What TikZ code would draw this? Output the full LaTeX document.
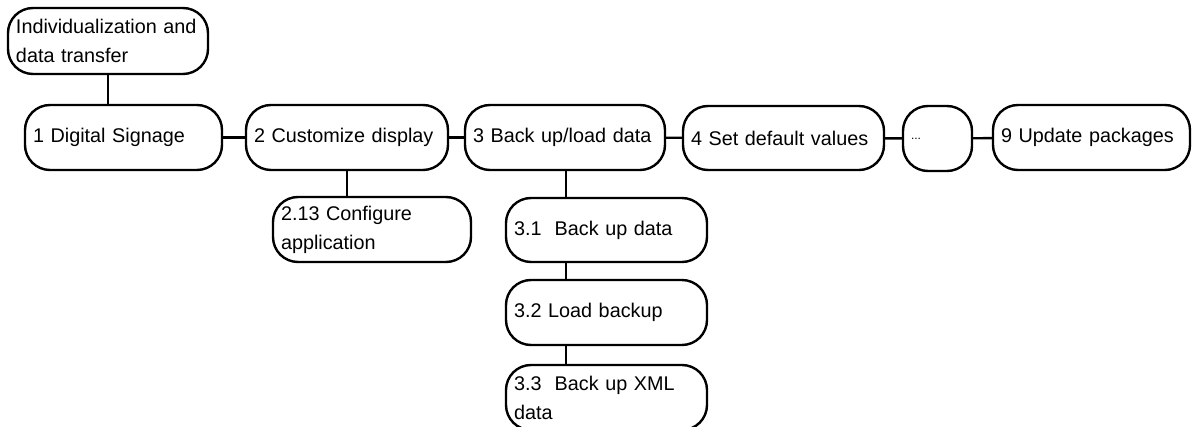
\documentclass[tikz,border=0pt]{standalone}
\usepackage{fontspec}
\setmainfont{Liberation Sans}
\begin{document}
\begin{tikzpicture}[x=1pt,y=-1pt,
  box/.style={draw, line width=2.4pt, rounded corners=25pt, inner xsep=8pt, inner ysep=0pt,
    align=left, font=\fontsize{19.8}{29}\selectfont, anchor=center},
  link/.style={line width=2.4pt}]
\useasboundingbox (0,0) rectangle (1192,427);
\clip (0,0) rectangle (1192,427);
\newcommand{\mybox}[6]{% name, x1, y1, x2, y2, text
  \pgfmathsetmacro{\bw}{#4-#2}\pgfmathsetmacro{\bh}{#5-#3}%
  \pgfmathsetmacro{\tw}{#4-#2-16}%
  \node[box, minimum width=\bw pt, minimum height=\bh pt, text width=\tw pt] (#1) at ({(#2+#4)/2},{(#3+#5)/2}) {#6};}
\mybox{top}{8}{8}{208}{74}{Individualization and\\data transfer}
\mybox{n1}{25}{105}{222}{170}{1 Digital Signage}
\mybox{n2}{246}{105}{448}{170}{2 Customize display}
\mybox{n3}{465}{105}{665}{170}{3 Back up/load data}
\mybox{n4}{683}{106}{884}{170}{4 Set default values}
\mybox{nd}{903}{106}{972}{171}{\fontsize{12}{14}\selectfont ...}
\mybox{n9}{993}{105}{1190}{170}{9 Update packages}
\mybox{n213}{273}{197}{471}{262}{2.13 Configure\\application}
\mybox{n31}{506}{198}{707}{262}{3.1~ Back up data}
\mybox{n32}{506}{280}{707}{345}{3.2 Load backup}
\mybox{n33}{506}{365}{707}{430}{3.3~ Back up XML\\data}
\draw[link] (top.south) -- (top.south |- n1.north);
\draw[link] (n1) -- (n2);
\draw[link] (n2) -- (n3);
\draw[link] (n3) -- (n4);
\draw[link] (n4) -- (nd);
\draw[link] (nd) -- (n9);
\draw[link] (n213.north -| n2.south) -- (n2.south);
\coordinate (c3) at (566,170);
\draw[link] (c3) -- (c3 |- n31.north);
\draw[link] (c3 |- n31.south) -- (c3 |- n32.north);
\draw[link] (c3 |- n32.south) -- (c3 |- n33.north);
\end{tikzpicture}
\end{document}
